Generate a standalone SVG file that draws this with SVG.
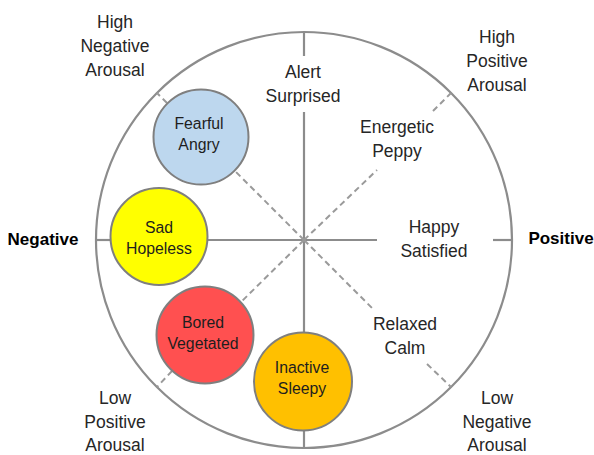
<svg xmlns="http://www.w3.org/2000/svg" width="594" height="455" viewBox="0 0 594 455">
<style>
.ln{stroke:#8c8c8c;stroke-width:2.2;fill:none}
.ds{stroke:#9a9a9a;stroke-width:2;fill:none;stroke-dasharray:6 4}
.nd{stroke:#7f7f7f;stroke-width:2}
text{font-family:"Liberation Sans",Arial,sans-serif;fill:#262626;text-anchor:middle}
.o{font-size:17.5px}
.n{font-size:15.8px;fill:#1e1e1e}
.b{font-size:17px;font-weight:bold;fill:#000}
</style>
<rect width="594" height="455" fill="#fff"/>
<circle id="outer" cx="304" cy="240" r="208" class="ln"/>
<g id="connectors">
<line class="ln" x1="304" y1="32" x2="304" y2="56"/>
<line class="ln" x1="304" y1="112" x2="304" y2="333"/>
<line class="ln" x1="304" y1="430" x2="304" y2="448"/>
<line class="ln" x1="96" y1="240" x2="111" y2="240"/>
<line class="ln" x1="207" y1="240" x2="377" y2="240"/>
<line class="ln" x1="493" y1="240" x2="512" y2="240"/>
<line class="ds" x1="304" y1="240" x2="235" y2="171"/>
<line class="ds" x1="167" y1="103" x2="157" y2="93"/>
<line class="ds" x1="304" y1="240" x2="377" y2="170"/>
<line class="ds" x1="433" y1="111" x2="451" y2="93"/>
<line class="ds" x1="304" y1="240" x2="372" y2="308"/>
<line class="ds" x1="427" y1="364" x2="451" y2="387"/>
<line class="ds" x1="304" y1="240" x2="239" y2="304"/>
<line class="ds" x1="172" y1="371" x2="157" y2="387"/>
</g>
<g id="fearful">
<circle class="nd" cx="201" cy="137" r="47.5" fill="#bdd7ee"/>
<text class="n" x="199" y="129">Fearful</text>
<text class="n" x="199" y="150">Angry</text>
</g>
<g id="sad">
<circle class="nd" cx="159" cy="236.5" r="48.5" fill="#ffff00"/>
<text class="n" x="159" y="233">Sad</text>
<text class="n" x="159" y="254">Hopeless</text>
</g>
<g id="bored">
<circle class="nd" cx="205" cy="335" r="48.5" fill="#ff5050"/>
<text class="n" x="203" y="328">Bored</text>
<text class="n" x="203" y="349">Vegetated</text>
</g>
<g id="inactive">
<circle class="nd" cx="303" cy="381.5" r="49" fill="#ffc000"/>
<text class="n" x="302" y="373">Inactive</text>
<text class="n" x="302" y="394">Sleepy</text>
</g>
<g id="labels">
<text class="o" x="115" y="28">High</text>
<text class="o" x="115" y="52">Negative</text>
<text class="o" x="115" y="76">Arousal</text>
<text class="o" x="303" y="78">Alert</text>
<text class="o" x="303" y="102">Surprised</text>
<text class="o" x="497" y="43">High</text>
<text class="o" x="497" y="67">Positive</text>
<text class="o" x="497" y="91">Arousal</text>
<text class="o" x="397" y="133">Energetic</text>
<text class="o" x="397" y="157">Peppy</text>
<text class="o" x="434" y="233">Happy</text>
<text class="o" x="434" y="257">Satisfied</text>
<text class="b" x="43" y="245">Negative</text>
<text class="b" x="561" y="244">Positive</text>
<text class="o" x="405" y="330">Relaxed</text>
<text class="o" x="405" y="354">Calm</text>
<text class="o" x="497" y="404">Low</text>
<text class="o" x="497" y="428">Negative</text>
<text class="o" x="497" y="451">Arousal</text>
<text class="o" x="115" y="404">Low</text>
<text class="o" x="115" y="428">Positive</text>
<text class="o" x="115" y="451">Arousal</text>
</g>
</svg>
